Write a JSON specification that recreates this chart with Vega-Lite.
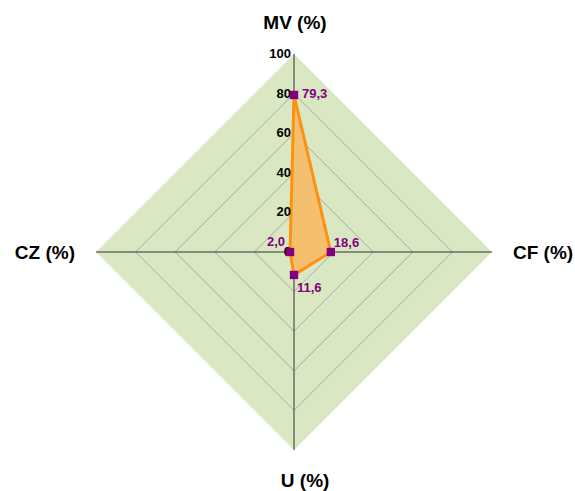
{
  "$schema": "https://vega.github.io/schema/vega-lite/v6.json",
  "autosize": "none",
  "width": 575,
  "height": 491,
  "padding": 0,
  "background": "white",
  "config": {"view": {"stroke": null}, "font": "Liberation Sans"},
  "datasets": {
    "points": [
      {"axis": "MV (%)", "value": 79.3, "label": "79,3", "x": 0, "y": 79.3, "order": 1},
      {"axis": "CF (%)", "value": 18.6, "label": "18,6", "x": 18.6, "y": 0, "order": 2},
      {"axis": "U (%)", "value": 11.6, "label": "11,6", "x": 0, "y": -11.6, "order": 3},
      {"axis": "CZ (%)", "value": 2.0, "label": "2,0", "x": -2.0, "y": 0, "order": 4},
      {"axis": "MV (%)", "value": 79.3, "label": "", "x": 0, "y": 79.3, "order": 5}
    ],
    "grid": [
      {"level": 20, "o": 1, "x": 0, "y": 20}, {"level": 20, "o": 2, "x": 20, "y": 0}, {"level": 20, "o": 3, "x": 0, "y": -20}, {"level": 20, "o": 4, "x": -20, "y": 0}, {"level": 20, "o": 5, "x": 0, "y": 20},
      {"level": 40, "o": 1, "x": 0, "y": 40}, {"level": 40, "o": 2, "x": 40, "y": 0}, {"level": 40, "o": 3, "x": 0, "y": -40}, {"level": 40, "o": 4, "x": -40, "y": 0}, {"level": 40, "o": 5, "x": 0, "y": 40},
      {"level": 60, "o": 1, "x": 0, "y": 60}, {"level": 60, "o": 2, "x": 60, "y": 0}, {"level": 60, "o": 3, "x": 0, "y": -60}, {"level": 60, "o": 4, "x": -60, "y": 0}, {"level": 60, "o": 5, "x": 0, "y": 60},
      {"level": 80, "o": 1, "x": 0, "y": 80}, {"level": 80, "o": 2, "x": 80, "y": 0}, {"level": 80, "o": 3, "x": 0, "y": -80}, {"level": 80, "o": 4, "x": -80, "y": 0}, {"level": 80, "o": 5, "x": 0, "y": 80}
    ],
    "outer": [
      {"x": -100, "y": 0, "y2": 0},
      {"x": 0, "y": 100, "y2": -100},
      {"x": 100, "y": 0, "y2": 0}
    ],
    "spokes": [
      {"x": 0, "y": 0, "x2": 0, "y2": 100},
      {"x": 0, "y": 0, "x2": 100, "y2": 0},
      {"x": 0, "y": 0, "x2": 0, "y2": -100},
      {"x": 0, "y": 0, "x2": -100, "y2": 0}
    ],
    "ticks": [
      {"t": "0", "v": 0}, {"t": "20", "v": 20}, {"t": "40", "v": 40},
      {"t": "60", "v": 60}, {"t": "80", "v": 80}, {"t": "100", "v": 100}
    ],
    "titles": [
      {"t": "MV (%)", "x": 0.5, "y": 115.7},
      {"t": "CF (%)", "x": 125.8, "y": -0.3},
      {"t": "U (%)", "x": 5.6, "y": -115.7},
      {"t": "CZ (%)", "x": -125.8, "y": -0.3}
    ]
  },
  "layer": [
    {
      "data": {"name": "outer"},
      "mark": {"type": "area", "color": "#d9e8c3", "opacity": 1},
      "encoding": {
        "x": {"field": "x", "type": "quantitative", "scale": {"domain": [-148.485, 141.919], "nice": false, "zero": false}, "axis": null},
        "y": {"field": "y", "type": "quantitative", "scale": {"domain": [-120.71, 127.27], "nice": false, "zero": false}, "axis": null},
        "y2": {"field": "y2"}
      }
    },
    {
      "data": {"name": "grid"},
      "mark": {"type": "line", "stroke": "#a8a8a8", "strokeWidth": 1},
      "encoding": {
        "x": {"field": "x", "type": "quantitative"},
        "y": {"field": "y", "type": "quantitative"},
        "detail": {"field": "level"},
        "order": {"field": "o"}
      }
    },
    {
      "data": {"name": "spokes"},
      "mark": {"type": "rule", "stroke": "#333333", "strokeWidth": 1},
      "encoding": {
        "x": {"field": "x", "type": "quantitative"},
        "y": {"field": "y", "type": "quantitative"},
        "x2": {"field": "x2"},
        "y2": {"field": "y2"}
      }
    },
    {
      "data": {"name": "points"},
      "mark": {"type": "line", "stroke": "#ff9010", "strokeWidth": 3, "fill": "#f4c070", "fillOpacity": 1, "strokeJoin": "miter"},
      "encoding": {
        "x": {"field": "x", "type": "quantitative"},
        "y": {"field": "y", "type": "quantitative"},
        "order": {"field": "order"}
      }
    },
    {
      "data": {"name": "ticks"},
      "mark": {"type": "text", "align": "right", "baseline": "middle", "dx": -3, "fontSize": 13, "fontWeight": "bold", "color": "black"},
      "encoding": {
        "x": {"datum": 0, "type": "quantitative"},
        "y": {"field": "v", "type": "quantitative"},
        "text": {"field": "t"}
      }
    },
    {
      "data": {"name": "points"},
      "transform": [{"filter": "datum.order < 5"}],
      "mark": {"type": "square", "color": "#800080", "size": 70, "opacity": 1, "filled": true},
      "encoding": {
        "x": {"field": "x", "type": "quantitative"},
        "y": {"field": "y", "type": "quantitative"}
      }
    },
    {
      "data": {"name": "points"},
      "transform": [{"filter": "datum.order == 1"}],
      "mark": {"type": "text", "align": "left", "baseline": "middle", "dx": 8, "dy": -1, "fontSize": 13, "fontWeight": "bold", "color": "#800080"},
      "encoding": {"x": {"field": "x", "type": "quantitative"}, "y": {"field": "y", "type": "quantitative"}, "text": {"field": "label"}}
    },
    {
      "data": {"name": "points"},
      "transform": [{"filter": "datum.order == 2"}],
      "mark": {"type": "text", "align": "left", "baseline": "middle", "dx": 3, "dy": -9, "fontSize": 13, "fontWeight": "bold", "color": "#800080"},
      "encoding": {"x": {"field": "x", "type": "quantitative"}, "y": {"field": "y", "type": "quantitative"}, "text": {"field": "label"}}
    },
    {
      "data": {"name": "points"},
      "transform": [{"filter": "datum.order == 3"}],
      "mark": {"type": "text", "align": "left", "baseline": "middle", "dx": 3, "dy": 13, "fontSize": 13, "fontWeight": "bold", "color": "#800080"},
      "encoding": {"x": {"field": "x", "type": "quantitative"}, "y": {"field": "y", "type": "quantitative"}, "text": {"field": "label"}}
    },
    {
      "data": {"name": "points"},
      "transform": [{"filter": "datum.order == 4"}],
      "mark": {"type": "text", "align": "right", "baseline": "middle", "dx": -5, "dy": -10, "fontSize": 13, "fontWeight": "bold", "color": "#800080"},
      "encoding": {"x": {"field": "x", "type": "quantitative"}, "y": {"field": "y", "type": "quantitative"}, "text": {"field": "label"}}
    },
    {
      "data": {"name": "titles"},
      "mark": {"type": "text", "align": "center", "baseline": "middle", "fontSize": 19, "fontWeight": "bold", "color": "black"},
      "encoding": {"x": {"field": "x", "type": "quantitative"}, "y": {"field": "y", "type": "quantitative"}, "text": {"field": "t"}}
    }
  ]
}
